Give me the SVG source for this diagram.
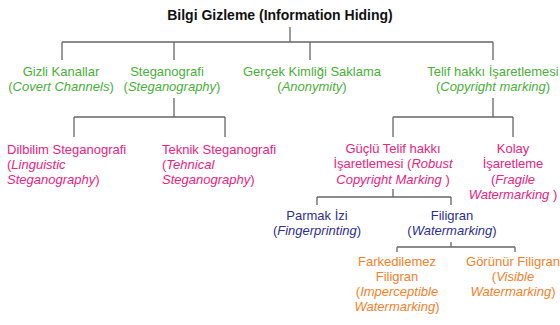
<svg xmlns="http://www.w3.org/2000/svg" width="560" height="325" viewBox="0 0 560 325">
<style>
text{font-family:"Liberation Sans",Arial,sans-serif;font-size:13px}
.t{font-weight:bold;font-size:14px;fill:#111}
.g{fill:#4aae3a}
.p{fill:#e8247e}
.b{fill:#2e2f8f}
.o{fill:#f47f2a}
.c{text-anchor:middle}
.i{font-style:italic}
.ln{stroke:#666;stroke-width:1.3;fill:none}
</style>
<rect width="560" height="325" fill="#ffffff"/>
<g id="connectors" class="ln">
<path d="M290 27V42M62 42H493M62 42V60M174 42V60M310 42V60M493 42V60"/>
<path d="M174 98V117M74 117H225M74 117V137M225 117V137"/>
<path d="M493 98V117M393 117H513M393 117V137M513 117V137"/>
<path d="M393 189V197M317 197H451M317 197V205M451 197V205"/>
<path d="M451 242V247M397 247H515M397 247V252M515 247V252"/>
</g>
<g id="root"><text class="t c" x="280" y="20">Bilgi Gizleme (Information Hiding)</text></g>
<g id="gizli" class="g c"><text x="61" y="76">Gizli Kanallar</text><text x="61" y="91">(<tspan class="i">Covert Channels</tspan>)</text></g>
<g id="stegano" class="g c"><text x="167" y="76">Steganografi</text><text x="172" y="91">(<tspan class="i">Steganography</tspan>)</text></g>
<g id="gercek" class="g c"><text x="312" y="76">Gerçek Kimliği Saklama</text><text x="312" y="91">(<tspan class="i">Anonymity</tspan>)</text></g>
<g id="telif" class="g c"><text x="493" y="76">Telif hakkı İşaretlemesi</text><text x="493" y="91">(<tspan class="i">Copyright marking</tspan>)</text></g>
<g id="dilbilim" class="p"><text x="7" y="154">Dilbilim Steganografi</text><text x="7" y="169">(<tspan class="i">Linguistic</tspan></text><text x="7" y="184"><tspan class="i">Steganography</tspan>)</text></g>
<g id="teknik" class="p"><text x="162" y="154">Teknik Steganografi</text><text x="162" y="169">(<tspan class="i">Tehnical</tspan></text><text x="162" y="184"><tspan class="i">Steganography</tspan>)</text></g>
<g id="guclu" class="p c"><text x="393" y="153">Güçlü Telif hakkı</text><text x="393" y="168">İşaretlemesi (<tspan class="i">Robust</tspan></text><text x="393" y="184"><tspan class="i">Copyright Marking </tspan>)</text></g>
<g id="kolay" class="p c"><text x="513" y="153">Kolay</text><text x="513" y="168">İşaretleme</text><text x="513" y="184">(<tspan class="i">Fragile</tspan></text><text x="513" y="199"><tspan class="i">Watermarking </tspan>)</text></g>
<g id="parmak" class="b c"><text x="317" y="220">Parmak İzi</text><text x="317" y="235">(<tspan class="i">Fingerprinting</tspan>)</text></g>
<g id="filigran" class="b c"><text x="452" y="220">Filigran</text><text x="452" y="235">(<tspan class="i">Watermarking</tspan>)</text></g>
<g id="farkedilemez" class="o c"><text x="397" y="266">Farkedilemez</text><text x="397" y="281">Filigran</text><text x="397" y="296">(<tspan class="i">Imperceptible</tspan></text><text x="397" y="311"><tspan class="i">Watermarking</tspan>)</text></g>
<g id="gorunur" class="o c"><text x="513" y="266">Görünür Filigran</text><text x="513" y="281">(<tspan class="i">Visible</tspan></text><text x="513" y="296"><tspan class="i">Watermarking</tspan>)</text></g>
</svg>
